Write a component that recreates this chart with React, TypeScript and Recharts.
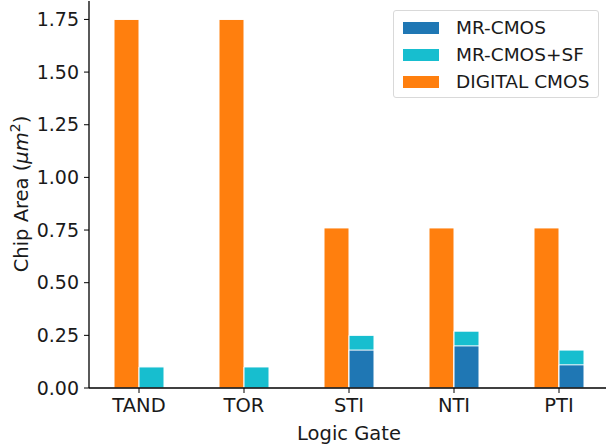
import { BarChart, Bar, XAxis, YAxis, Legend, Label } from 'recharts';

const gates = ['TAND', 'TOR', 'STI', 'NTI', 'PTI'];
// MR-CMOS has no bar for TAND / TOR
const mrCmos = [null, null, 0.18, 0.2, 0.11];
const mrCmosSf = [0.1, 0.1, 0.25, 0.27, 0.18];
const digitalCmos = [1.75, 1.75, 0.76, 0.76, 0.76];
const yTicks = [0, 0.25, 0.5, 0.75, 1.0, 1.25, 1.5, 1.75];

const legendItems = [
  { name: 'MR-CMOS', color: '#1f77b4' },
  { name: 'MR-CMOS+SF', color: '#17becf' },
  { name: 'DIGITAL CMOS', color: '#ff7f0e' },
];

const FONT = '"DejaVu Sans", Verdana, sans-serif';
const TEXT = '#1a1a1a';

const data = gates.map((g, i) => ({
  gate: g,
  mr: mrCmos[i],
  mrsf: mrCmosSf[i],
  digital: digitalCmos[i],
}));

function LegendBox() {
  return (
    <div
      style={{
        width: 206,
        height: 88,
        border: '1px solid #d9d9d9',
        borderRadius: 3,
        background: '#fff',
        boxSizing: 'border-box',
        paddingTop: 3,
        fontFamily: FONT,
        fontSize: 18.5,
        color: TEXT,
      }}
    >
      {legendItems.map((it) => (
        <div key={it.name} style={{ display: 'flex', alignItems: 'center', height: 27 }}>
          <span style={{ display: 'inline-block', width: 36, height: 12, background: it.color, marginLeft: 9 }} />
          <span style={{ marginLeft: 17, lineHeight: '27px' }}>{it.name}</span>
        </div>
      ))}
    </div>
  );
}

function YLabel() {
  return (
    <text
      x={28}
      y={194}
      transform="rotate(-90 28 194)"
      textAnchor="middle"
      fontFamily={FONT}
      fontSize={19.5}
      fill={TEXT}
    >
      Chip Area (<tspan fontStyle="italic">μm</tspan>
      <tspan dy={-8} fontSize={14}>2</tspan>
      <tspan dy={8}>)</tspan>
    </text>
  );
}

export default function App() {
  return (
    <div style={{ position: 'absolute', left: 0, top: 0, width: 606, height: 446, overflow: 'hidden', background: '#fff' }}>
      <BarChart
        width={612}
        height={446}
        data={data}
        margin={{ top: 1, right: 3, left: 0, bottom: 0 }}
        barCategoryGap="26.2%"
        barGap={0}
      >
        <XAxis
          dataKey="gate"
          height={58}
          padding={{ left: -2.5, right: -2.5 }}
          tickSize={5}
          tickMargin={5}
          tick={{ fontFamily: FONT, fontSize: 19.5, fill: TEXT }}
          axisLine={{ stroke: '#000', strokeWidth: 1.3 }}
          tickLine={{ stroke: '#000' }}
        >
          <Label
            value="Logic Gate"
            position="insideBottom"
            offset={6}
            style={{ fontFamily: FONT, fontSize: 19.5, fill: TEXT }}
          />
        </XAxis>
        <XAxis
          xAxisId="top"
          dataKey="gate"
          orientation="top"
          height={0}
          padding={{ left: -2.5, right: -2.5 }}
          tick={false}
          tickLine={false}
          axisLine={{ stroke: '#000', strokeWidth: 1.3 }}
        />
        <YAxis
          width={89}
          domain={[0, 1.8375]}
          ticks={yTicks}
          tickFormatter={(v: number) => v.toFixed(2)}
          tickSize={5}
          tickMargin={5}
          tick={{ fontFamily: FONT, fontSize: 19, fill: TEXT }}
          axisLine={{ stroke: '#000', strokeWidth: 1.3 }}
          tickLine={{ stroke: '#000' }}
          label={<YLabel />}
        />
        <Legend
          layout="horizontal"
          verticalAlign="middle"
          align="center"
          content={() => <LegendBox />}
          wrapperStyle={{ position: 'absolute', top: 10, left: 393, width: 206 }}
        />
        <Bar dataKey="digital" fill="#ff7f0e" stroke="#fff" strokeWidth={1} isAnimationActive={false} />
        <Bar dataKey="mrsf" fill="#17becf" stroke="#fff" strokeWidth={1} isAnimationActive={false} />
        {/* overlay axis: transparent placeholder keeps MR-CMOS in the same slot as MR-CMOS+SF */}
        <Bar xAxisId="top" dataKey="digital" fill="none" stroke="none" legendType="none" isAnimationActive={false} />
        <Bar xAxisId="top" dataKey="mr" fill="#1f77b4" stroke="#fff" strokeWidth={1} isAnimationActive={false} />
      </BarChart>
    </div>
  );
}
